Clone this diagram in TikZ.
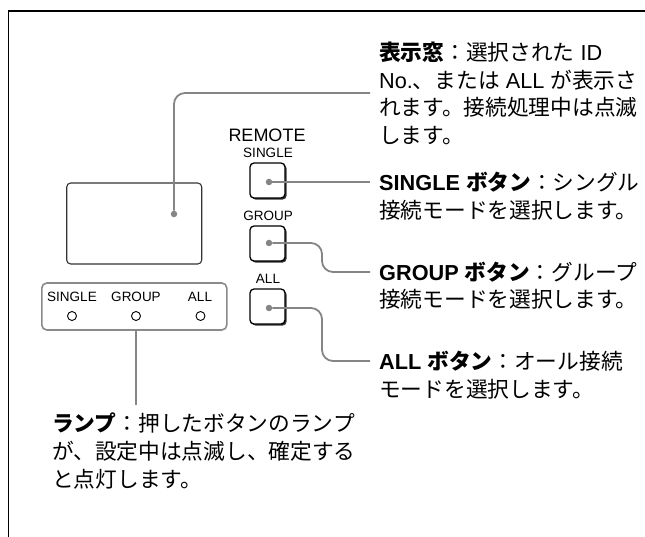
\documentclass[tikz,border=0pt]{standalone}
\usepackage{fontspec}
\setmainfont{Liberation Sans}
\newfontfamily\jpfont{Noto Sans CJK JP}
\newcommand\jtext[1]{{\jpfont #1}}
\usetikzlibrary{shadows}
\definecolor{conngray}{HTML}{858585}
\definecolor{boxgray}{HTML}{8A8A8A}
\tikzset{
  conn/.style={draw=conngray, line width=1.8pt, rounded corners=11pt},
  cdot/.style={circle, fill=conngray, inner sep=0pt, minimum size=6.5pt},
  btn/.style={draw=black, line width=1.3pt, rounded corners=4pt, fill=white,
    minimum width=35pt, minimum height=35pt, inner sep=0pt,
    drop shadow={shadow xshift=1.6pt, shadow yshift=-1.6pt, fill=black!80, opacity=1}},
  small/.style={font=\fontsize{13.5}{15}\selectfont, inner sep=0pt},
  desc/.style={anchor=base west, inner sep=0pt, font=\fontsize{21.7}{28}\selectfont},
  lamp/.style={circle, draw=black, line width=0.9pt, inner sep=0pt, minimum size=9pt},
}
\begin{document}
\begin{tikzpicture}[x=1pt, y=-1pt]
\useasboundingbox (0,0) rectangle (645,537);
% frame
\draw[line width=1.6pt, line cap=rect] (8.5,537) -- (8.5,11) -- (645,11);

% display window
\node[draw=black!80, line width=1.1pt, rounded corners=4pt, minimum width=135pt, minimum height=81pt, inner sep=0pt] (disp) at (134.2,223.5) {};
\node[cdot] (ddot) at (174,214) {};

% lamp box
\node[draw=boxgray, line width=1.6pt, rounded corners=5pt, minimum width=185pt, minimum height=47pt, inner sep=0pt] (lampbox) at (134.3,306.5) {};
\node[small] (ls) at (72,297) {SINGLE};
\node[small] (lg) at (136,297) {GROUP};
\node[small] (la) at (200,297) {ALL};
\node[lamp] (cs) at (72,316) {};
\node[lamp] (cg) at (136,316) {};
\node[lamp] (ca) at (200.5,316) {};

% remote buttons
\node[font=\fontsize{18}{20}\selectfont, inner sep=0pt] (remote) at (267,135) {REMOTE};
\node[small] (bsl) at (268,153) {SINGLE};
\node[btn] (bs) at (267.5,180.5) {};
\node[cdot] (bsd) at (269,182) {};
\node[small] (bgl) at (268,216) {GROUP};
\node[btn] (bg) at (267.5,243.5) {};
\node[cdot] (bgd) at (269,243) {};
\node[small] (bal) at (268,279) {ALL};
\node[btn] (ba) at (267.5,306.5) {};
\node[cdot] (bad) at (269,308) {};

% connector ends
\coordinate (e1) at (370,93);
\coordinate (e2) at (370,182);
\coordinate (e3) at (370,272);
\coordinate (e4) at (370,361);
\coordinate (e5) at (136,405);

\draw[conn] (ddot) |- (e1);
\draw[conn] (bsd) -- (e2);
\draw[conn] (bgd) -- ++(53,0) |- (e3);
\draw[conn] (bad) -- ++(53,0) |- (e4);
\draw[conn] (lampbox.south -| cg) -- (e5);

% descriptions
\node[desc] (t1) at (379,61) {{\bfseries\jtext{表示窓}}\jtext{：選択された} ID};
\node[desc] (t2) at (379,89) {No.\jtext{、または} ALL \jtext{が表示さ}};
\node[desc] (t3) at (379,116) {\jtext{れます。接続処理中は点滅}};
\node[desc] (t4) at (379,144) {\jtext{します。}};

\node[desc] (t5) at (379,191) {{\bfseries SINGLE \jtext{ボタン}}\jtext{：シングル}};
\node[desc] (t6) at (379,219) {\jtext{接続モードを選択します。}};

\node[desc] (t7) at (379,280) {{\bfseries GROUP \jtext{ボタン}}\jtext{：グループ}};
\node[desc] (t8) at (379,308) {\jtext{接続モードを選択します。}};

\node[desc] (t9) at (379,369) {{\bfseries ALL \jtext{ボタン}}\jtext{：オール接続}};
\node[desc] (t10) at (379,397) {\jtext{モードを選択します。}};

\node[desc] (t11) at (52,431) {{\bfseries\jtext{ランプ}}\jtext{：押したボタンのランプ}};
\node[desc] (t12) at (52,459) {\jtext{が、設定中は点滅し、確定する}};
\node[desc] (t13) at (52,487) {\jtext{と点灯します。}};
\end{tikzpicture}
\end{document}
